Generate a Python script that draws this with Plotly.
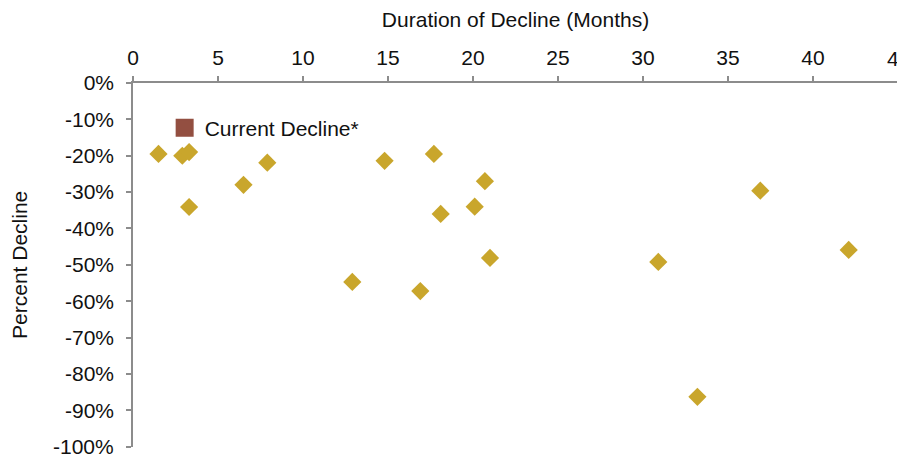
import plotly.graph_objects as go

# Historical declines: duration (months) and percent decline
duration_months = [1.5, 2.9, 3.3, 3.3, 6.5, 7.9, 12.9, 14.8, 17.7, 16.9,
                   18.1, 20.1, 20.7, 21.0, 30.9, 33.2, 36.9, 42.1]
percent_decline = [-0.195, -0.200, -0.190, -0.341, -0.280, -0.219, -0.547, -0.214, -0.195, -0.572,
                   -0.360, -0.340, -0.270, -0.481, -0.492, -0.863, -0.296, -0.459]

# Current decline (no point plotted in the reference; legend only)
current_x = [None]
current_y = [None]

x_tickvals = [0, 5, 10, 15, 20, 25, 30, 35, 40, 45]
x_ticktext = ["0", "5", "10", "15", "20", "25", "30", "35", "40", "45"]
y_tickvals = [0, -0.1, -0.2, -0.3, -0.4, -0.5, -0.6, -0.7, -0.8, -0.9, -1.0]
y_ticktext = ["0%", "-10%", "-20%", "-30%", "-40%", "-50%", "-60%", "-70%", "-80%", "-90%", "-100%"]

FONT = "Liberation Sans, Arial, sans-serif"
AXIS_COLOR = "#8c8c8c"
TEXT_COLOR = "#111111"

fig = go.Figure()
fig.add_trace(go.Scatter(
    x=duration_months, y=percent_decline, mode="markers",
    marker=dict(symbol="diamond", size=14, color="#C9A62C"),
    name="Past Declines", showlegend=False,
))
fig.add_trace(go.Scatter(
    x=current_x, y=current_y, mode="markers",
    marker=dict(symbol="square", size=16, color="#934F41", line=dict(color="#934F41", width=2)),
    name="Current Decline*", showlegend=True,
))

# Edge tick labels that run off the page (Plotly hides these automatically)
fig.add_annotation(x=x_tickvals[-1], xref="x", y=1, yref="paper", text=x_ticktext[-1],
                   showarrow=False, yanchor="middle", xanchor="center", yshift=24.6,
                   font=dict(family=FONT, size=21, color=TEXT_COLOR))
fig.add_annotation(x=0, xref="paper", y=y_tickvals[-1], yref="y", text=y_ticktext[-1],
                   showarrow=False, yanchor="middle", xanchor="right", xshift=-17.5,
                   font=dict(family=FONT, size=21, color=TEXT_COLOR))

# page body has an 8px default margin, so figure is sized to the visible area
fig.update_layout(
    width=897, height=447,
    margin=dict(l=125, r=0, t=75, b=0),
    paper_bgcolor="white", plot_bgcolor="white",
    font=dict(family=FONT, size=21, color=TEXT_COLOR),
    showlegend=True,
    legend=dict(x=0.041, y=0.934, xanchor="left", yanchor="top",
                bgcolor="rgba(0,0,0,0)", font=dict(size=21)),
    xaxis=dict(
        side="top", range=[0, 45], tickvals=x_tickvals, ticktext=x_ticktext, automargin=False,
        domain=[0, 765 / 772],
        showline=True, linecolor=AXIS_COLOR, linewidth=1.5,
        ticks="outside", ticklen=5, tickcolor=AXIS_COLOR, tickwidth=1.5,
        showgrid=False, zeroline=False, ticklabelstandoff=3,
        title=dict(text="Duration of Decline (Months)", standoff=12, font=dict(size=21)),
    ),
    yaxis=dict(
        range=[-1.0, 0], tickvals=y_tickvals, ticktext=y_ticktext, automargin=False,
        domain=[8.3 / 372, 1],
        showline=True, linecolor=AXIS_COLOR, linewidth=1.5,
        ticks="outside", ticklen=5, tickcolor=AXIS_COLOR, tickwidth=1.5,
        showgrid=False, zeroline=False, ticklabelstandoff=8,
        title=dict(text="Percent Decline", standoff=34, font=dict(size=21)),
    ),
)

fig.write_html("out.html")
